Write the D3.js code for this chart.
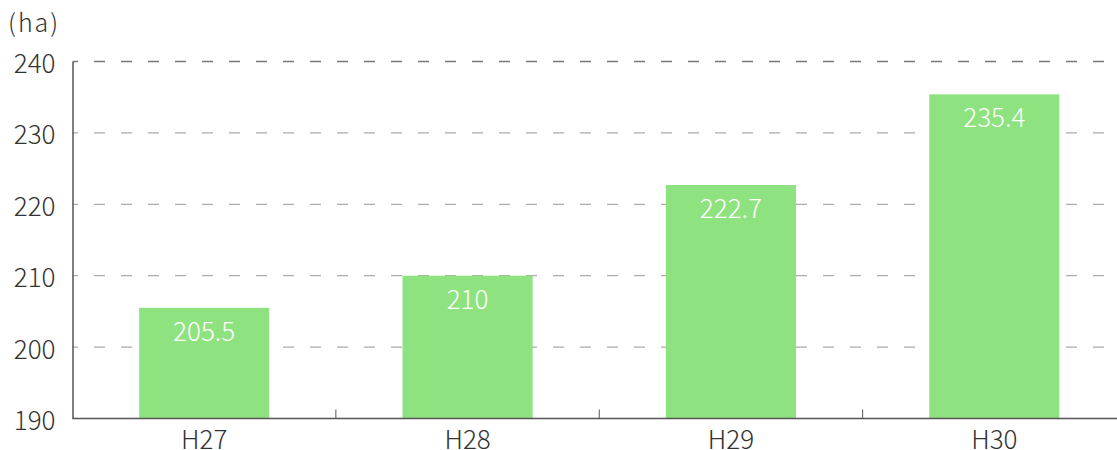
<!DOCTYPE html>
<html><head><meta charset="utf-8">
<script src="https://cdn.jsdelivr.net/npm/d3@7"></script>
<style>
html,body{margin:0;padding:0;background:#fff;overflow:hidden;}
svg{display:block;}
text{font-family:"Noto Sans CJK JP","Noto Sans",sans-serif;font-weight:300;}
</style></head>
<body>
<script>
const categories = ["H27", "H28", "H29", "H30"];
const values = [205.5, 210, 222.7, 235.4];
const valueLabels = ["205.5", "210", "222.7", "235.4"];
const yTicks = [190, 200, 210, 220, 230, 240];
const unitLabel = "(ha)";

(function () {
const W = 1117, H = 450;
const mLeft = 72.5, mRight = 1126, mTop = 61.5, mBottom = 418.5;

const svg = d3.select("body").append("svg").attr("width", W).attr("height", H);

const x = d3.scaleBand().domain(categories).range([mLeft, mRight])
  .paddingInner(0.506).paddingOuter(0.253);
const y = d3.scaleLinear().domain([190, 240]).range([mBottom, mTop]);

// gridlines
svg.append("g").selectAll("line").data(yTicks.filter(t => t > 190)).join("line")
  .attr("x1", mLeft).attr("x2", mRight)
  .attr("y1", d => y(d)).attr("y2", d => y(d))
  .attr("stroke", d => d === 240 ? "#777" : "#aaa")
  .attr("stroke-width", 1.3)
  .attr("stroke-dasharray", "11,16")
  .attr("stroke-dashoffset", 5.5);

// bars
svg.append("g").selectAll("rect").data(values).join("rect")
  .attr("x", (d, i) => x(categories[i]))
  .attr("width", x.bandwidth())
  .attr("y", d => y(d))
  .attr("height", d => y(190) - y(d))
  .attr("fill", "#8ee27f");

// value labels
svg.append("g").selectAll("text").data(values).join("text")
  .attr("x", (d, i) => x(categories[i]) + x.bandwidth() / 2)
  .attr("y", d => y(d) + 33)
  .attr("text-anchor", "middle")
  .attr("fill", "#fff")
  .attr("font-size", 26)
  .text((d, i) => valueLabels[i]);

// y axis
const yAxis = d3.axisLeft(y).tickValues(yTicks).tickSize(0).tickPadding(17);
const gy = svg.append("g").attr("transform", `translate(${mLeft},0)`).call(yAxis);
gy.attr("font-family", null).attr("font-size", null);
gy.select(".domain").attr("stroke", "#555").attr("stroke-width", 1.5);
gy.selectAll("text").attr("font-size", 26).attr("fill", "#333")
  .attr("dy", "0.42em");

// x axis
const gx = svg.append("g").attr("transform", `translate(0,${mBottom})`);
gx.append("line").attr("x1", mLeft).attr("x2", mRight).attr("y1", 0).attr("y2", 0)
  .attr("stroke", "#555").attr("stroke-width", 1.5);
const step = x.step();
gx.selectAll("line.sep").data(categories.slice(1)).join("line")
  .attr("class", "sep")
  .attr("x1", d => x(d) - step * x.paddingInner() / 2)
  .attr("x2", d => x(d) - step * x.paddingInner() / 2)
  .attr("y1", 0).attr("y2", -9)
  .attr("stroke", "#555").attr("stroke-width", 1);
gx.selectAll("text").data(categories).join("text")
  .attr("x", d => x(d) + x.bandwidth() / 2)
  .attr("y", 30)
  .attr("text-anchor", "middle")
  .attr("font-size", 26).attr("fill", "#333")
  .text(d => d);

// unit label
svg.append("text").attr("x", 8).attr("y", 32).attr("font-size", 25)
  .attr("letter-spacing", 2).attr("fill", "#333").text(unitLabel);
})();
</script>
</body></html>
